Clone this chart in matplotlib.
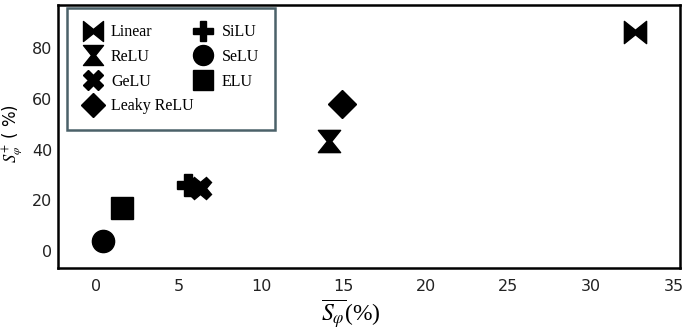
import matplotlib
matplotlib.use('Agg')
import matplotlib.pyplot as plt
from matplotlib.path import Path

# Activation functions and their measured sparsity values (%)
names = ['Linear', 'ReLU', 'GeLU', 'Leaky ReLU', 'SiLU', 'SeLU', 'ELU']
s_mean = [32.7, 14.1, 6.3, 14.9, 5.6, 0.4, 1.6]
s_plus = [86.5, 43.5, 25.0, 58.0, 26.0, 4.0, 17.0]

xticks = [0, 5, 10, 15, 20, 25, 30, 35]
yticks = [0, 20, 40, 60, 80]

# custom markers: a bow tie and an hourglass
bowtie = Path([(-1, -1), (-1, 1), (0, 0.2), (1, 1), (1, -1), (0, -0.2), (-1, -1)],
              closed=True)
hourglass = Path([(-1, 1), (1, 1), (0.2, 0), (1, -1), (-1, -1), (-0.2, 0), (-1, 1)],
                 closed=True)
markers = [bowtie, hourglass, 'X', 'D', 'P', 'o', 's']
sizes = [16, 16, 16, 14, 16, 16, 16]

plt.rcParams['mathtext.fontset'] = 'stix'

fig = plt.figure(figsize=(6.85, 3.31), dpi=100)
ax = fig.add_axes([0.0847, 0.19, 0.908, 0.795])

for name, x, y, m, ms in zip(names, s_mean, s_plus, markers, sizes):
  ax.plot([x], [y], linestyle='none', marker=m, markersize=ms,
          color='black', label=name)

ax.set_xlim(-2.3, 35.4)
ax.set_ylim(-6.7, 97)
ax.set_xticks(xticks)
ax.set_yticks(yticks)
ax.tick_params(length=0, labelsize=11.5, labelcolor='#222222')
ax.tick_params(axis='x', pad=8)
ax.tick_params(axis='y', pad=4)
for sp in ax.spines.values():
  sp.set_linewidth(1.8)

ax.set_xlabel(r'$\overline{S_{\varphi}}$(%)', fontsize=17,
              family='Liberation Serif')
ax.xaxis.set_label_coords(0.47, -0.112)
ax.set_ylabel(r'$S_{\varphi}^{+}$ ( %)', fontsize=12)
ax.yaxis.set_label_coords(-0.054, 0.513)

leg = ax.legend(ncol=2, loc='upper left', bbox_to_anchor=(0.0145, 0.988),
                borderaxespad=0, prop={'family': 'Liberation Serif', 'size': 11.5},
                markerscale=0.9, fancybox=False, handletextpad=0.55,
                columnspacing=0.0, labelspacing=0.55, borderpad=1.0,
                handlelength=1.2)
leg.get_frame().set_edgecolor('#1e3a44')
leg.get_frame().set_linewidth(1.8)

fig.savefig('out.png', dpi=100)
